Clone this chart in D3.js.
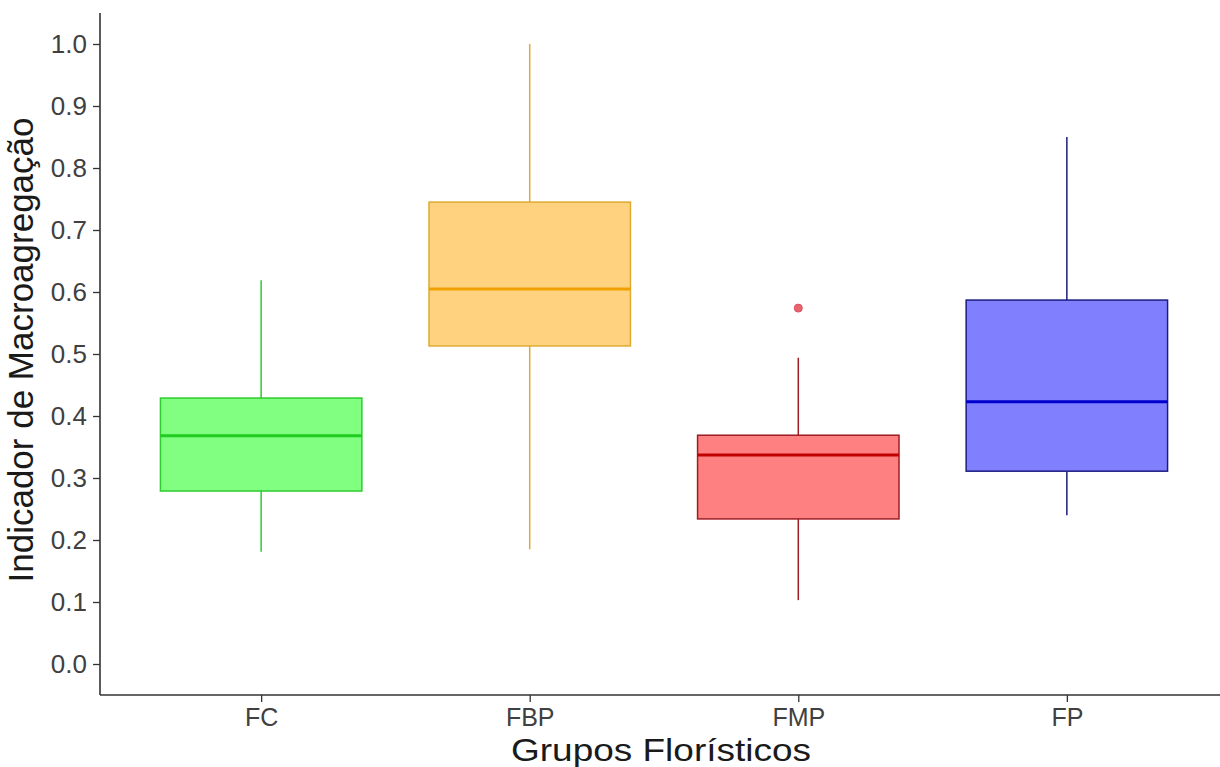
<!DOCTYPE html>
<html lang="pt">
  <head>
    <meta charset="utf-8">
    <title>Indicador de Macroagregação</title>
    <script src="https://d3js.org/d3.v7.js"></script>
    <style>
      body { margin: 0; background: #fff; }
      text { font-family: "Liberation Sans", Arial, sans-serif; }
    </style>
  </head>
  <body>
    <svg></svg>
  <script>

// Data

  var groups = ["FC", "FBP", "FMP", "FP"];
  var whiskerLow  = [0.181, 0.185, 0.103, 0.240];
  var q1          = [0.279, 0.513, 0.234, 0.311];
  var median      = [0.368, 0.605, 0.337, 0.423];
  var q3          = [0.429, 0.745, 0.369, 0.587];
  var whiskerHigh = [0.619, 1.000, 0.494, 0.850];
  var outliers    = [[], [], [0.574], []];
  var yTicks = [0, 0.1, 0.2, 0.3, 0.4, 0.5, 0.6, 0.7, 0.8, 0.9, 1.0];

  var fills   = ["#80ff80", "#ffd280", "#ff8080", "#8080ff"];
  var strokes = ["#2fcc2f", "#e0aa30", "#9e1c24", "#1c1c80"];
  var medians = ["#1fcc1f", "#f0a000", "#c00000", "#0000cc"];

  var w = 1220;
  var h = 767;
  var margin = {top: 13, right: -8, bottom: 72, left: 100};

  var svg = d3.select("svg")
      .attr("width", w)
      .attr("height", h);

  var xScale = d3.scalePoint()
      .domain(groups)
      .range([margin.left, w - margin.right])
      .padding(0.6);

  var yScale = d3.scaleLinear()
      .domain([-0.05, 1.05])
      .range([h - margin.bottom, margin.top]);

  var boxW = xScale.step() * 0.75;

  var rows = groups.map((g, i) => ({
    key: g, lo: whiskerLow[i], q1: q1[i], med: median[i], q3: q3[i],
    hi: whiskerHigh[i], out: outliers[i], fill: fills[i], stroke: strokes[i], medc: medians[i]
  }));

  var plot = svg.append("g").attr("id", "plot");

  var box = plot.selectAll("g.box")
      .data(rows)
    .enter().append("g")
      .attr("class", "box");

  // whiskers
  box.append("line")
      .attr("x1", d => xScale(d.key))
      .attr("x2", d => xScale(d.key))
      .attr("y1", d => yScale(d.q3))
      .attr("y2", d => yScale(d.hi))
      .attr("stroke", d => d.stroke)
      .attr("stroke-width", 1.5);

  box.append("line")
      .attr("x1", d => xScale(d.key))
      .attr("x2", d => xScale(d.key))
      .attr("y1", d => yScale(d.q1))
      .attr("y2", d => yScale(d.lo))
      .attr("stroke", d => d.stroke)
      .attr("stroke-width", 1.5);

  box.append("rect")
      .attr("x", d => xScale(d.key) - boxW / 2)
      .attr("y", d => yScale(d.q3))
      .attr("width", boxW)
      .attr("height", d => yScale(d.q1) - yScale(d.q3))
      .attr("fill", d => d.fill)
      .attr("stroke", d => d.stroke)
      .attr("stroke-width", 1.5);

  box.append("line")
      .attr("x1", d => xScale(d.key) - boxW / 2)
      .attr("x2", d => xScale(d.key) + boxW / 2)
      .attr("y1", d => yScale(d.med))
      .attr("y2", d => yScale(d.med))
      .attr("stroke", d => d.medc)
      .attr("stroke-width", 3);

  box.selectAll("circle")
      .data(d => d.out.map(v => ({key: d.key, v: v})))
    .enter().append("circle")
      .attr("cx", d => xScale(d.key))
      .attr("cy", d => yScale(d.v))
      .attr("r", 4)
      .attr("fill", "#e8646e")
      .attr("stroke", "#d85060")
      .attr("stroke-width", 1);

// Axes

  var yAxis = d3.axisLeft(yScale)
      .tickValues(yTicks)
      .tickFormat(d3.format(".1f"))
      .tickSize(7)
      .tickPadding(6);

  var xAxis = d3.axisBottom(xScale)
      .tickSize(7)
      .tickPadding(6);

  var gy = svg.append("g")
      .attr("class", "yAxis")
      .attr("transform", `translate(${margin.left}, 0)`)
      .call(yAxis);

  var gx = svg.append("g")
      .attr("class", "xAxis")
      .attr("transform", `translate(0, ${h - margin.bottom})`)
      .call(xAxis);

  [gy, gx].forEach(g => {
    g.select(".domain").attr("stroke", "#333").attr("stroke-width", 1.6);
    g.selectAll(".tick line").attr("stroke", "#333").attr("stroke-width", 1.3);
    g.selectAll(".tick text")
        .attr("fill", "#404040")
        .style("font-size", "26px");
  });
  gx.selectAll(".tick text").style("font-size", "25px");

  // axis lines in ggplot start at the panel edge, not with outer ticks
  gy.select(".domain").attr("d", `M0,${margin.top}V${h - margin.bottom}`);
  gx.select(".domain").attr("d", `M${margin.left},0H${w}`);

// Titles

  svg.append("text")
      .attr("x", 661)
      .attr("y", 760.5)
      .attr("text-anchor", "middle")
      .attr("fill", "#1a1a1a")
      .attr("textLength", 300)
      .attr("lengthAdjust", "spacingAndGlyphs")
      .style("font-size", "31px")
      .text("Grupos Florísticos");

  svg.append("text")
      .attr("transform", "translate(33, 350) rotate(-90)")
      .attr("text-anchor", "middle")
      .attr("fill", "#1a1a1a")
      .style("font-size", "35px")
      .text("Indicador de Macroagregação");

  </script>
  </body>
</html>
